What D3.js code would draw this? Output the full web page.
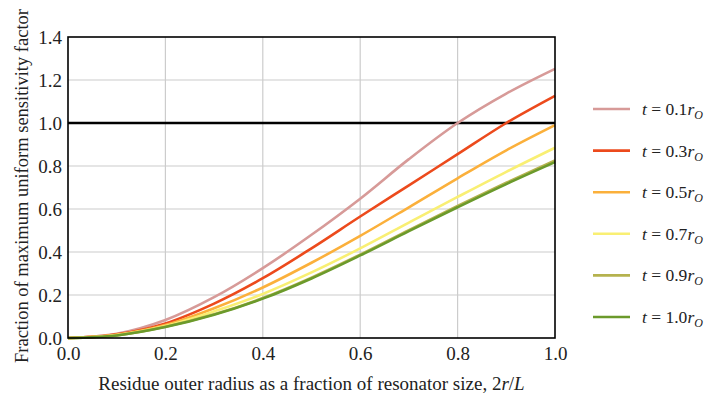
<!DOCTYPE html>
<html>
<head>
<meta charset="utf-8">
<script src="https://cdn.jsdelivr.net/npm/d3@7"></script>
<style>
  body { margin: 0; background: #fff; }
  text { font-family: "Liberation Serif", "Times New Roman", serif; }
</style>
</head>
<body>
<div id="chart"></div>
<script>
// data
const xs = [0, 0.1, 0.2, 0.3, 0.4, 0.5, 0.6, 0.7, 0.8, 0.9, 1.0];
const seriesNames = ["0.1", "0.3", "0.5", "0.7", "0.9", "1.0"];
const seriesColors = ["#d79a98", "#ec4a1c", "#fbb03b", "#f9ef73", "#b5b24e", "#6b9a2b"];
const s01 = [0, 0.020, 0.084, 0.190, 0.325, 0.480, 0.648, 0.832, 1.000, 1.137, 1.252];
const s03 = [0, 0.017, 0.068, 0.160, 0.278, 0.417, 0.565, 0.710, 0.855, 1.000, 1.126];
const s05 = [0, 0.015, 0.060, 0.138, 0.235, 0.350, 0.475, 0.608, 0.743, 0.873, 0.990];
const s07 = [0, 0.014, 0.056, 0.124, 0.205, 0.305, 0.417, 0.537, 0.656, 0.773, 0.885];
const s09 = [0, 0.012, 0.052, 0.110, 0.186, 0.281, 0.388, 0.502, 0.614, 0.722, 0.826];
const s10 = [0, 0.012, 0.051, 0.108, 0.183, 0.277, 0.384, 0.497, 0.608, 0.716, 0.818];
const allSeries = [s01, s03, s05, s07, s09, s10];
const xTicks = [0, 0.2, 0.4, 0.6, 0.8, 1.0];
const yTicks = [0, 0.2, 0.4, 0.6, 0.8, 1.0, 1.2, 1.4];

const W = 706, H = 397;
const margin = { top: 37, right: 151, bottom: 59, left: 68 },
    width = W - margin.left - margin.right,
    height = H - margin.top - margin.bottom;

const svg = d3.select("#chart")
    .append("svg")
    .attr("width", W)
    .attr("height", H);

const g = svg.append("g")
    .attr("transform", `translate(${margin.left}, ${margin.top})`);

const x = d3.scaleLinear().domain([0, 1]).range([0, width]);
const y = d3.scaleLinear().domain([0, 1.4]).range([height, 0]);

// grid
g.append("g")
    .selectAll("line")
    .data(xTicks.slice(1, -1))
    .join("line")
    .attr("x1", d => x(d)).attr("x2", d => x(d))
    .attr("y1", 0).attr("y2", height)
    .attr("stroke", "#cccccc").attr("stroke-width", 1.2);
g.append("g")
    .selectAll("line")
    .data(yTicks.slice(1, -1))
    .join("line")
    .attr("x1", 0).attr("x2", width)
    .attr("y1", d => y(d)).attr("y2", d => y(d))
    .attr("stroke", "#cccccc").attr("stroke-width", 1.2);

// axes
g.append("g")
    .attr("transform", `translate(0, ${height})`)
    .call(d3.axisBottom(x).tickValues(xTicks).tickFormat(d3.format(".1f")).tickSize(0))
    .call(a => a.select(".domain").remove())
    .call(a => a.selectAll("text")
        .style("font-size", "19px").attr("fill", "#222")
        .attr("y", 22).attr("dy", 0));
g.append("g")
    .call(d3.axisLeft(y).tickValues(yTicks).tickFormat(d3.format(".1f")).tickSize(0).tickPadding(6))
    .call(a => a.select(".domain").remove())
    .call(a => a.selectAll("text").style("font-size", "19px").attr("fill", "#222"));

// reference line at 1.0
g.append("line")
    .attr("x1", 0).attr("x2", width)
    .attr("y1", y(1)).attr("y2", y(1))
    .attr("stroke", "#000").attr("stroke-width", 2.6);

// curves
const line = d3.line()
    .x((d, i) => x(xs[i]))
    .y(d => y(d))
    .curve(d3.curveCatmullRom);

g.append("g")
    .selectAll("path")
    .data(allSeries)
    .join("path")
    .attr("d", d => line(d))
    .attr("fill", "none")
    .attr("stroke", (d, i) => seriesColors[i])
    .attr("stroke-width", 2.6);

// frame
g.append("rect")
    .attr("width", width).attr("height", height)
    .attr("fill", "none").attr("stroke", "#000").attr("stroke-width", 1.6);

// axis titles
svg.append("text")
    .attr("x", margin.left + width / 2)
    .attr("y", 390)
    .attr("text-anchor", "middle")
    .style("font-size", "19px")
    .attr("fill", "#222")
    .html("Residue outer radius as a fraction of resonator size, 2<tspan font-style='italic'>r</tspan>/<tspan font-style='italic'>L</tspan>");

svg.append("text")
    .attr("transform", "translate(28, 186) rotate(-90)")
    .attr("text-anchor", "middle")
    .style("font-size", "18.5px")
    .attr("fill", "#222")
    .text("Fraction of maximum uniform sensitivity factor");

// legend
const legend = svg.append("g")
    .attr("transform", "translate(593, 109)");
const items = legend.selectAll("g")
    .data(seriesNames)
    .join("g")
    .attr("transform", (d, i) => `translate(0, ${i * 41.6})`);
items.append("line")
    .attr("x1", 0).attr("x2", 37)
    .attr("stroke", (d, i) => seriesColors[i])
    .attr("stroke-width", 2.6);
items.append("text")
    .attr("x", 49)
    .attr("y", 6)
    .style("font-size", "17.5px")
    .attr("fill", "#222")
    .html(d => `<tspan font-style="italic">t</tspan> = ${d}<tspan font-style="italic">r</tspan><tspan font-style="italic" font-size="12px" dy="4">O</tspan>`);
</script>
</body>
</html>
